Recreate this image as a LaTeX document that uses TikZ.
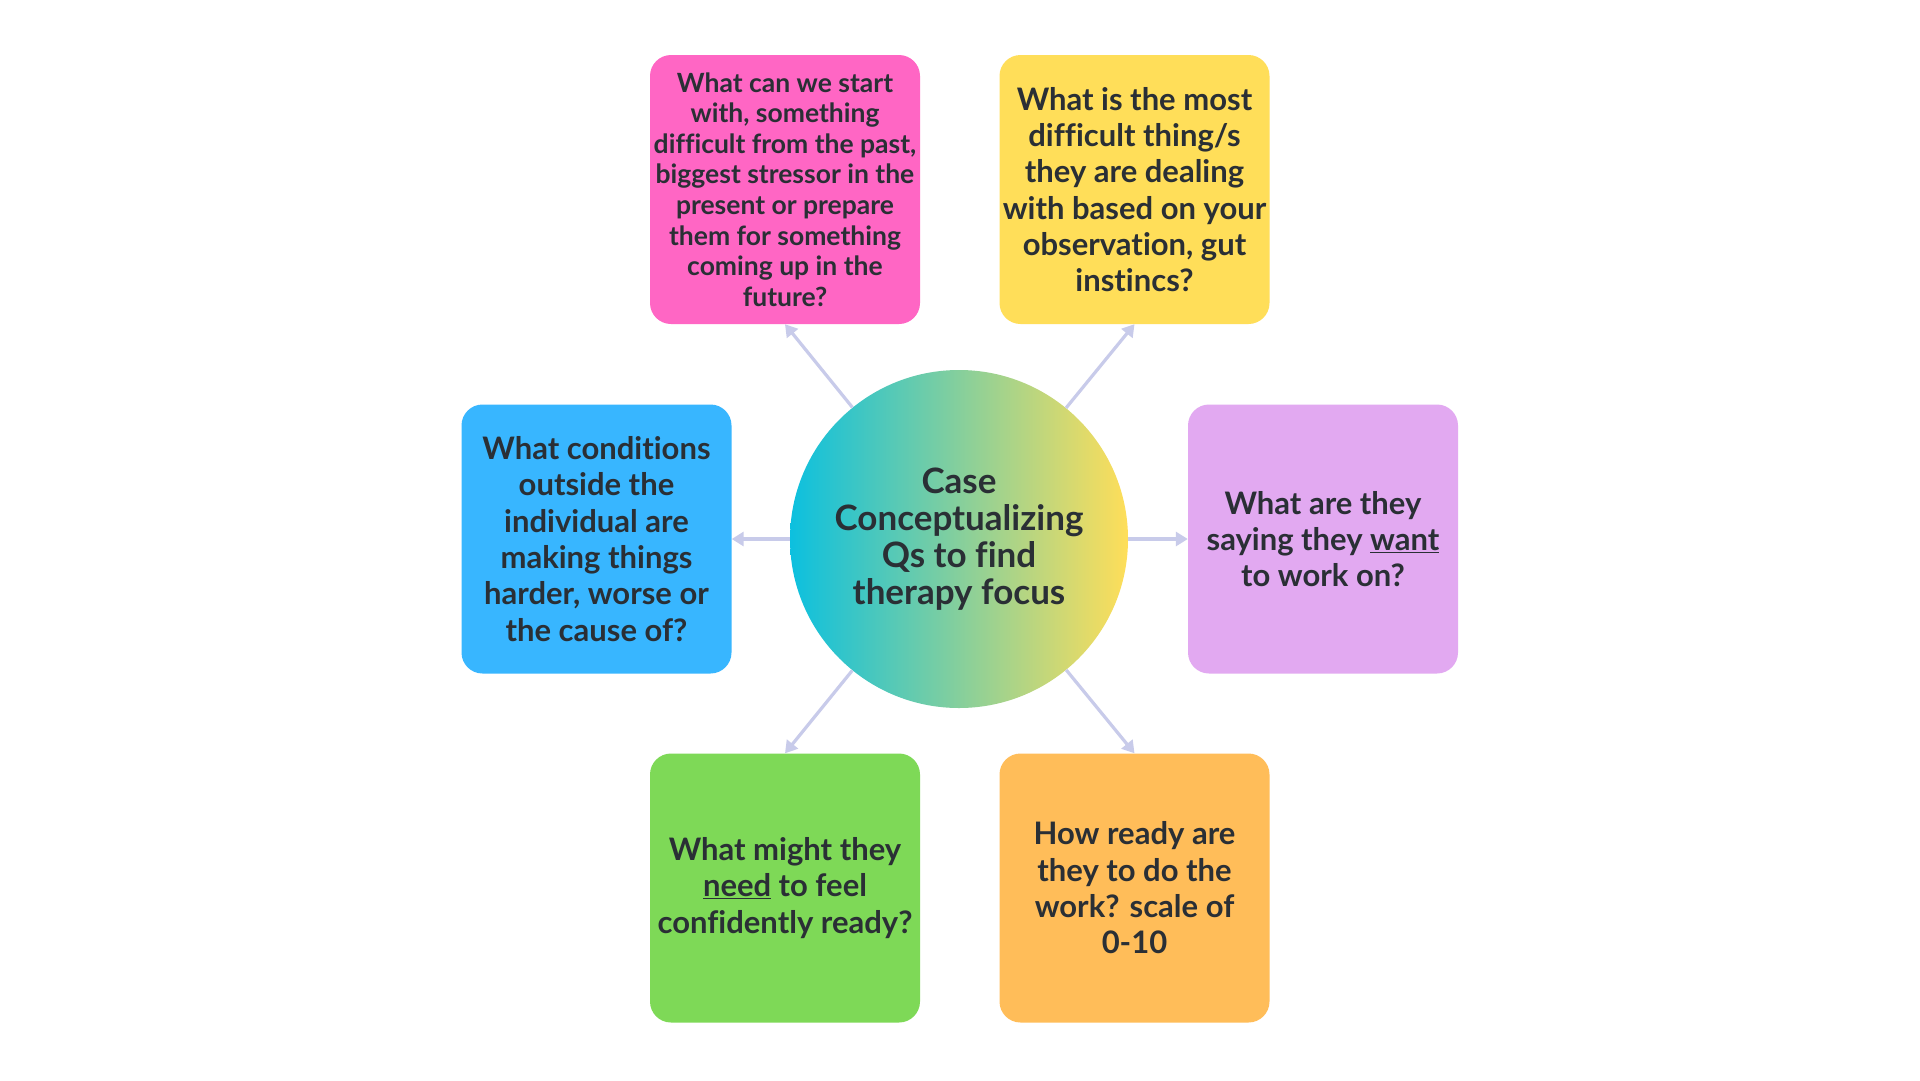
\documentclass[tikz,border=0pt]{standalone}
\usepackage{fontspec}
\setmainfont{Lato}[Ligatures=NoCommon]
\usetikzlibrary{arrows.meta}

\definecolor{qtext}{HTML}{2A2F35}
\definecolor{qline}{HTML}{C8CBEA}
\definecolor{qcyan}{HTML}{0CC0DF}
\definecolor{qyellow}{HTML}{FFDE59}
\definecolor{qpink}{HTML}{FF66C4}
\definecolor{qblue}{HTML}{38B6FF}
\definecolor{qlilac}{HTML}{E2A9F1}
\definecolor{qgreen}{HTML}{7ED957}
\definecolor{qorange}{HTML}{FFBD59}

\begin{document}
\begin{tikzpicture}[x=1pt,y=-1pt,
    qbox/.style={rounded corners=21pt, minimum width=270pt, minimum height=269pt,
      inner sep=0pt, align=center, text=qtext,
      font=\bfseries\fontsize{31}{36.3}\selectfont},
    link/.style={draw=qline, line width=3.2pt,
      -{Triangle[length=12pt,width=14pt]}}]
  \useasboundingbox[fill=white] (0,0) rectangle (1920,1080);
  % central hub
  \node[circle, minimum size=338pt, inner sep=0pt, left color=qcyan,
    right color=qyellow, align=center, text=qtext,
    font=\bfseries\fontsize{35}{37}\selectfont] (hub) at (959,539)
    {Case\\Conceptualizing\\Qs to find\\therapy focus};
  % question boxes
  \node[qbox, fill=qpink, font=\bfseries\fontsize{26.5}{30.6}\selectfont] (start) at (785,189.5)
    {What can we start\\with, something\\difficult from the past,\\biggest stressor in the\\present or prepare\\them for something\\coming up in the\\future?};
  \node[qbox, fill=qyellow] (hard) at (1134.5,189.5)
    {What is the most\\difficult thing/s\\they are dealing\\with based on your\\observation, gut\\instincs?};
  \node[qbox, fill=qblue] (outside) at (596.5,539)
    {What conditions\\outside the\\individual are\\making things\\harder, worse or\\the cause of?};
  \node[qbox, fill=qlilac] (want) at (1323,539)
    {What are they\\saying they \underline{want}\\to work on?};
  \node[qbox, fill=qgreen] (need) at (785,888)
    {What might they\\\underline{need} to feel\\confidently ready?};
  \node[qbox, fill=qorange] (ready) at (1134.5,888)
    {How ready are\\they to do the\\work? scale of\\0-10};
  % connectors
  \draw[link] (hub) -- (start.south);
  \draw[link] (hub) -- (hard.south);
  \draw[link] (hub) -- (outside.east);
  \draw[link] (hub) -- (want.west);
  \draw[link] (hub) -- (need.north);
  \draw[link] (hub) -- (ready.north);
\end{tikzpicture}
\end{document}
